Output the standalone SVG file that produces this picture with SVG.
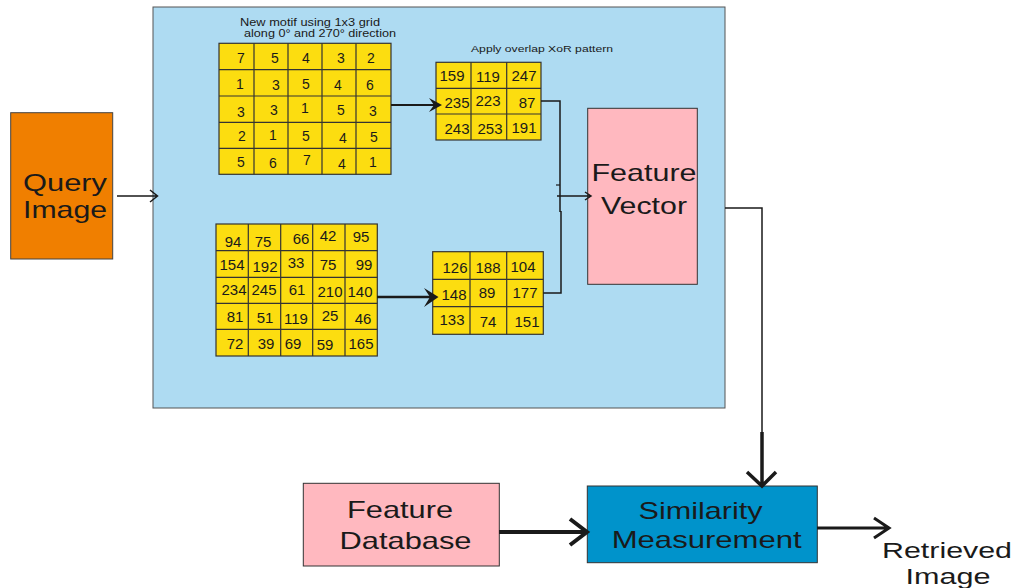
<svg xmlns="http://www.w3.org/2000/svg" width="1018" height="588" viewBox="0 0 1018 588">
<style>
.lbl{font-family:"Liberation Sans",Arial,sans-serif;font-size:24px;fill:#1a1a1a;text-anchor:middle}
.sm{font-family:"Liberation Sans",Arial,sans-serif;font-size:10px;fill:#1a1a1a;text-anchor:middle}
.num{font-family:"Liberation Sans",Arial,sans-serif;font-size:15px;fill:#1a1a1a;text-anchor:middle}
.dig{font-family:"Liberation Sans",Arial,sans-serif;font-size:14px;fill:#1a1a1a;text-anchor:middle}
.cell{fill:#FCDD10;stroke:#333;stroke-width:1.2}
.gl{fill:none;stroke:#333;stroke-width:1.2}
.ln{fill:none;stroke:#1a1a1a;stroke-linecap:butt;stroke-linejoin:miter}
</style>
<rect width="1018" height="588" fill="#fff"/>
<g id="process">
<rect x="153" y="7" width="572" height="401" fill="#AEDBF2" stroke="#555" stroke-width="1"/>
<text class="sm" x="310" y="26" textLength="140" lengthAdjust="spacingAndGlyphs">New motif using 1x3 grid</text>
<text class="sm" x="320" y="37" textLength="152" lengthAdjust="spacingAndGlyphs">along 0° and 270° direction</text>
<text class="sm" x="542" y="52" style="font-size:8.5px" textLength="142" lengthAdjust="spacingAndGlyphs">Apply overlap XoR pattern</text>
</g>
<g id="grid-motif">
<rect class="cell" x="219" y="43.3" width="172" height="131"/>
<path class="gl" d="M254,43.3V174.3M288,43.3V174.3M322,43.3V174.3M356,43.3V174.3M219,69.7H391M219,96H391M219,122.3H391M219,148.3H391"/>
<text class="dig" x="241" y="63">7</text><text class="dig" x="275" y="63">5</text><text class="dig" x="306" y="63">4</text><text class="dig" x="341" y="63">3</text><text class="dig" x="371" y="63">2</text>
<text class="dig" x="240" y="89">1</text><text class="dig" x="276" y="90">3</text><text class="dig" x="306" y="89">5</text><text class="dig" x="338" y="90">4</text><text class="dig" x="370" y="90">6</text>
<text class="dig" x="241" y="117">3</text><text class="dig" x="274" y="115">3</text><text class="dig" x="305" y="113">1</text><text class="dig" x="341" y="115">5</text><text class="dig" x="373" y="116">3</text>
<text class="dig" x="242" y="141">2</text><text class="dig" x="273" y="140">1</text><text class="dig" x="306" y="141">5</text><text class="dig" x="343" y="143">4</text><text class="dig" x="374" y="142">5</text>
<text class="dig" x="241" y="167">5</text><text class="dig" x="273" y="168">6</text><text class="dig" x="307" y="165">7</text><text class="dig" x="342" y="169">4</text><text class="dig" x="373" y="167">1</text>
</g>
<g id="grid-xor-top">
<rect class="cell" x="436" y="62.3" width="105" height="77.7"/>
<path class="gl" d="M471,62.3V140M506.7,62.3V140M436,88.3H541M436,114H541"/>
<text class="num" x="452" y="81">159</text><text class="num" x="488" y="82">119</text><text class="num" x="524" y="81">247</text>
<text class="num" x="457" y="108">235</text><text class="num" x="488" y="106">223</text><text class="num" x="527" y="108">87</text>
<text class="num" x="457" y="134">243</text><text class="num" x="490" y="134">253</text><text class="num" x="524" y="133">191</text>
</g>
<g id="grid-values">
<rect class="cell" x="216" y="224" width="161.3" height="132"/>
<path class="gl" d="M248.3,224V356M280.7,224V356M312.7,224V356M345,224V356M216,250.7H377.3M216,277.3H377.3M216,303.3H377.3M216,329.3H377.3"/>
<text class="num" x="233" y="247">94</text><text class="num" x="263" y="247">75</text><text class="num" x="301" y="244">66</text><text class="num" x="328" y="241">42</text><text class="num" x="361" y="242">95</text>
<text class="num" x="232" y="270">154</text><text class="num" x="265" y="272">192</text><text class="num" x="296" y="268">33</text><text class="num" x="328" y="270">75</text><text class="num" x="364" y="270">99</text>
<text class="num" x="234" y="295">234</text><text class="num" x="264" y="295">245</text><text class="num" x="297" y="295">61</text><text class="num" x="330" y="297">210</text><text class="num" x="360" y="297">140</text>
<text class="num" x="235" y="322">81</text><text class="num" x="265" y="323">51</text><text class="num" x="296" y="324">119</text><text class="num" x="330" y="321">25</text><text class="num" x="363" y="324">46</text>
<text class="num" x="235" y="349">72</text><text class="num" x="266" y="349">39</text><text class="num" x="293" y="349">69</text><text class="num" x="325" y="350">59</text><text class="num" x="361" y="349">165</text>
</g>
<g id="grid-xor-bottom">
<rect class="cell" x="432.7" y="251.7" width="110.6" height="82.6"/>
<path class="gl" d="M470,251.7V334.3M506.7,251.7V334.3M432.7,279.3H543.3M432.7,306.7H543.3"/>
<text class="num" x="455" y="273">126</text><text class="num" x="488" y="273">188</text><text class="num" x="523" y="272">104</text>
<text class="num" x="454" y="300">148</text><text class="num" x="487" y="298">89</text><text class="num" x="525" y="298">177</text>
<text class="num" x="452" y="325">133</text><text class="num" x="488" y="327">74</text><text class="num" x="527" y="327">151</text>
</g>
<g id="feature-vector">
<rect x="587.7" y="108.3" width="109.6" height="176" fill="#FFB8BF" stroke="#333" stroke-width="1"/>
<text class="lbl" x="644" y="181" textLength="105" lengthAdjust="spacingAndGlyphs">Feature</text>
<text class="lbl" x="644" y="214" textLength="86" lengthAdjust="spacingAndGlyphs">Vector</text>
</g>
<g id="query-image">
<rect x="10.7" y="112.7" width="102" height="146.3" fill="#F07F00" stroke="#444" stroke-width="1"/>
<text class="lbl" x="65" y="191" textLength="84" lengthAdjust="spacingAndGlyphs">Query</text>
<text class="lbl" x="65" y="218" textLength="84" lengthAdjust="spacingAndGlyphs">Image</text>
</g>
<g id="feature-database">
<rect x="303.3" y="483.3" width="196" height="82.7" fill="#FFB8BF" stroke="#333" stroke-width="1"/>
<text class="lbl" x="400" y="518" textLength="106" lengthAdjust="spacingAndGlyphs">Feature</text>
<text class="lbl" x="405.5" y="549" textLength="132" lengthAdjust="spacingAndGlyphs">Database</text>
</g>
<g id="similarity-measurement">
<rect x="587.3" y="486" width="230" height="76.7" fill="#0093CB" stroke="#333" stroke-width="1"/>
<text class="lbl" x="700.5" y="519" textLength="124" lengthAdjust="spacingAndGlyphs">Similarity</text>
<text class="lbl" x="706.7" y="548" textLength="190" lengthAdjust="spacingAndGlyphs">Measurement</text>
</g>
<g id="retrieved-image">
<text class="lbl" x="947" y="558" style="font-size:22px" textLength="130" lengthAdjust="spacingAndGlyphs">Retrieved</text>
<text class="lbl" x="948" y="584" style="font-size:22px" textLength="85" lengthAdjust="spacingAndGlyphs">Image</text>
</g>
<g id="connectors">
<path class="ln" stroke-width="1.5" d="M117,196H157M150,190L157.5,196L150,202"/>
<path class="ln" stroke-width="2" d="M391,105H434"/>
<path d="M442,105L429,98L434,105L429,112Z" fill="#1a1a1a"/>
<path class="ln" stroke-width="2.5" d="M377,297H431"/>
<path d="M438.5,297L424,288L430,297L424,307Z" fill="#1a1a1a"/>
<path class="ln" stroke-width="1.5" d="M541,101H560V212M543.3,293H561V211"/>
<path class="ln" stroke-width="1.2" d="M556,185H560"/>
<path class="ln" stroke-width="1.5" d="M557,196H591M585,192L591,196L585,200"/>
<path class="ln" stroke-width="1.5" d="M725,208H762V433"/>
<path class="ln" stroke-width="3.5" d="M762,432V485M747,472L762,486L776,472"/>
<path class="ln" stroke-width="4" d="M499,532H586M570,519L587,532L570,545"/>
<path class="ln" stroke-width="3" d="M817,528H888M874,518L889,528L874,538"/>
</g>
</svg>
